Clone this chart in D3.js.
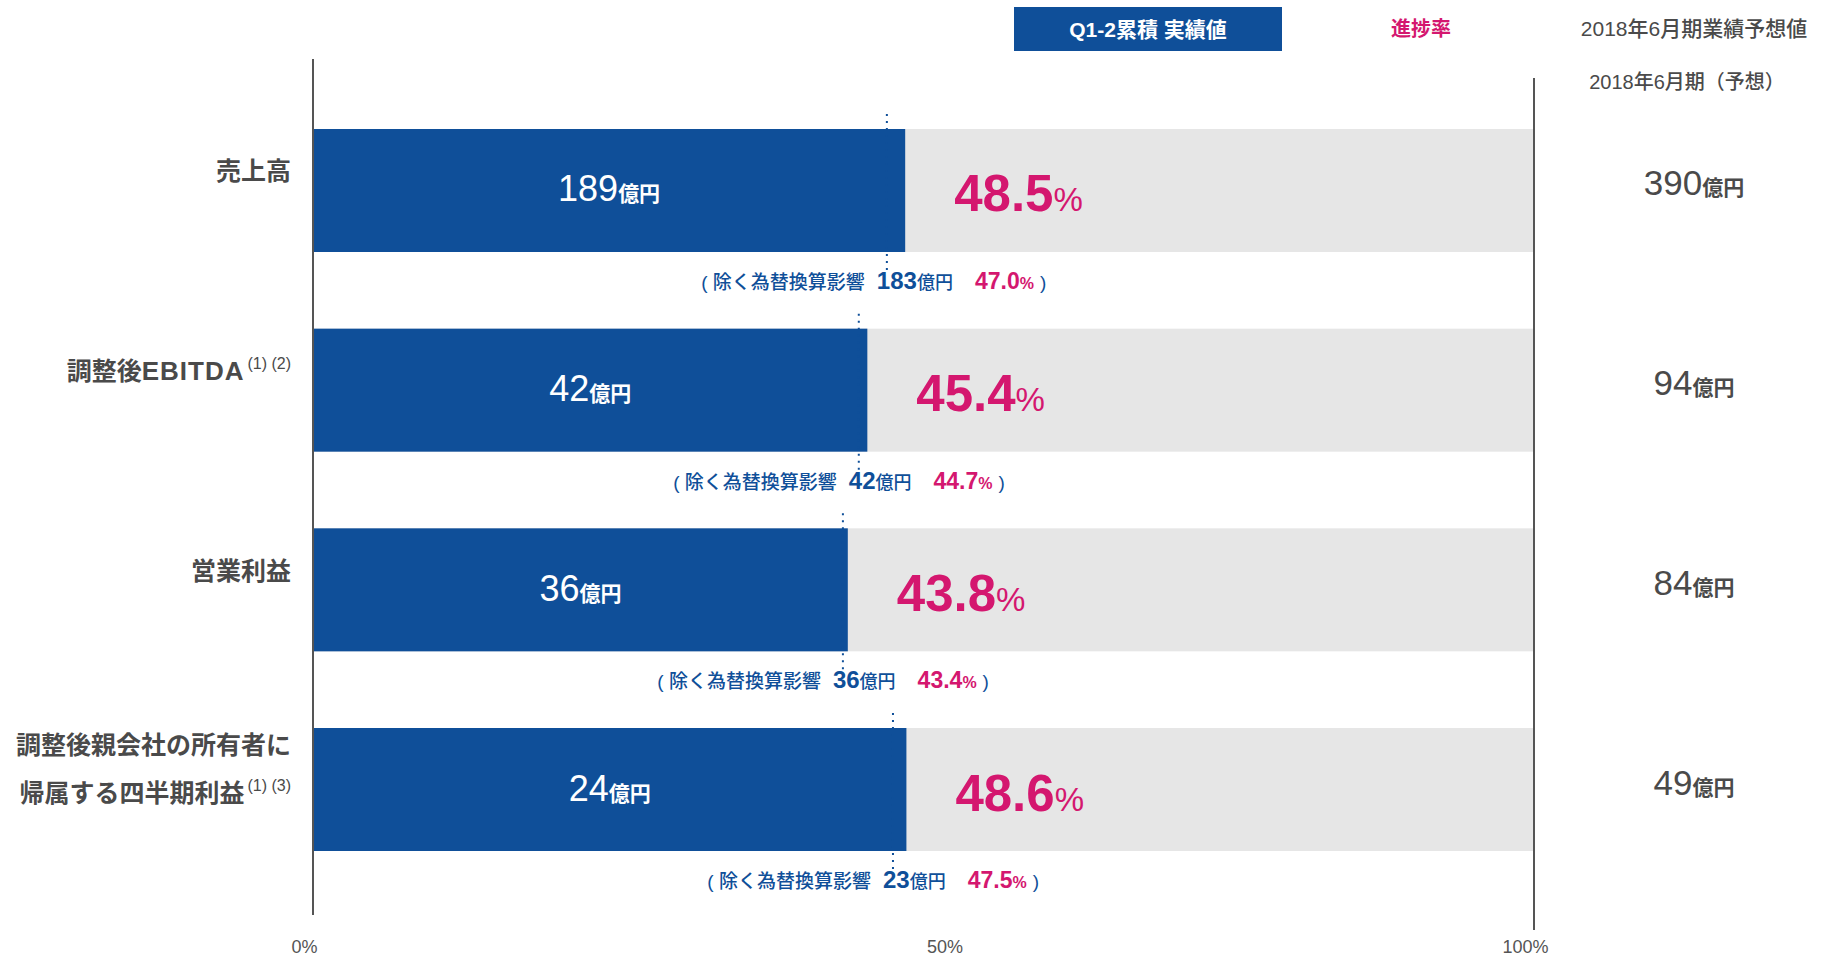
<!DOCTYPE html>
<html>
<head>
<meta charset="utf-8">
<script src="https://cdn.jsdelivr.net/npm/d3@7"></script>
<style>
  body { margin: 0; background: #fff; }
  svg { display: block; }
</style>
</head>
<body>
<div id="chart"></div>
<script>
// data
const categories = ['売上高', '調整後EBITDA', '営業利益', '調整後親会社の所有者に帰属する四半期利益'];
const labelLines = [['売上高'], ['調整後EBITDA'], ['営業利益'], ['調整後親会社の所有者に', '帰属する四半期利益']];
const footnotes = ['', '(1) (2)', '', '(1) (3)'];
const actuals = [189, 42, 36, 24];
const progress = [48.5, 45.4, 43.8, 48.6];
const actualsExFx = [183, 42, 36, 23];
const progressExFx = [47.0, 44.7, 43.4, 47.5];
const forecasts = [390, 94, 84, 49];
const tickValues = [0, 50, 100];

const W = 1823, H = 959;
const blue = '#0f4f99', pink = '#d4176f', grey = '#e6e6e6', dark = '#4a4a4a';
const jp = "'Liberation Sans', 'Noto Sans CJK JP', sans-serif";
const num = "'Liberation Sans', Arial, sans-serif";

const svg = d3.select('#chart').append('svg')
  .attr('width', W).attr('height', H)
  .attr('font-family', jp);

const x = d3.scaleLinear().domain([0, 100]).range([313, 1534]);
const y = d3.scaleBand().domain(categories).range([129, 851]).paddingInner(0.384).paddingOuter(0);

// legend / headers
svg.append('rect').attr('x', 1014).attr('y', 7).attr('width', 268).attr('height', 44).attr('fill', blue);
svg.append('text').attr('x', 1148).attr('y', 37).attr('text-anchor', 'middle')
  .attr('fill', '#fff').attr('font-weight', 700).attr('font-size', 21).text('Q1-2累積 実績値');
svg.append('text').attr('x', 1421).attr('y', 36).attr('text-anchor', 'middle')
  .attr('fill', pink).attr('font-weight', 700).attr('font-size', 20).text('進捗率');
svg.append('text').attr('x', 1694).attr('y', 36).attr('text-anchor', 'middle')
  .attr('fill', dark).attr('font-weight', 500).attr('font-size', 21).text('2018年6月期業績予想値');
svg.append('text').attr('x', 1687).attr('y', 89).attr('text-anchor', 'middle')
  .attr('fill', dark).attr('font-weight', 500).attr('font-size', 20).text('2018年6月期（予想）');

// background bars
svg.selectAll('.bg').data(categories).join('rect')
  .attr('class', 'bg')
  .attr('x', x(0)).attr('y', d => y(d))
  .attr('width', x(100) - x(0)).attr('height', y.bandwidth())
  .attr('fill', grey);

// actual bars
svg.selectAll('.bar').data(categories).join('rect')
  .attr('class', 'bar')
  .attr('x', x(0)).attr('y', d => y(d))
  .attr('width', (d, i) => x(progress[i]) - x(0)).attr('height', y.bandwidth())
  .attr('fill', blue);

// axes lines
svg.append('line').attr('x1', x(0)).attr('x2', x(0)).attr('y1', 59).attr('y2', 915)
  .attr('stroke', '#555').attr('stroke-width', 2);
svg.append('line').attr('x1', x(100)).attr('x2', x(100)).attr('y1', 78).attr('y2', 930)
  .attr('stroke', '#555').attr('stroke-width', 2);

// tick labels
const axis = d3.axisBottom(x).tickValues(tickValues).tickFormat(d => d + '%').tickSize(0);
const ax = svg.append('g').attr('transform', 'translate(-9,937)').call(axis);
ax.select('.domain').remove();
ax.selectAll('text').attr('font-family', num).attr('font-size', 18).attr('fill', '#555')
  .attr('dx', d => d === 50 ? 30 : 0);

// dotted ex-FX markers
svg.selectAll('.dot').data(categories).join('line')
  .attr('class', 'dot')
  .attr('x1', (d, i) => x(progressExFx[i])).attr('x2', (d, i) => x(progressExFx[i]))
  .attr('y1', d => y(d) - 15).attr('y2', d => y(d) + y.bandwidth() + 19)
  .attr('stroke', blue).attr('stroke-width', 2).attr('stroke-dasharray', '2,5');

// category labels (latin runs a bit wider, like the original)
categories.forEach((c, i) => {
  const lines = labelLines[i];
  const cy = y(c) + y.bandwidth() / 2;
  const first = lines.length === 1 ? cy - 18 : cy - 44;
  lines.forEach((ln, k) => {
    const t = svg.append('text').attr('x', 291).attr('y', first + k * 48 + 8)
      .attr('text-anchor', 'end').attr('fill', dark).attr('font-weight', 700).attr('font-size', 25);
    ln.split(/([A-Za-z]+)/).filter(s => s).forEach(part => {
      const sp = t.append('tspan').text(part);
      if (/[A-Za-z]/.test(part)) sp.attr('letter-spacing', 1).attr('font-size', 26);
    });
    if (k === lines.length - 1 && footnotes[i]) {
      t.append('tspan').attr('font-size', 16).attr('font-weight', 400).attr('dy', -11).attr('dx', 3).text(footnotes[i]);
    }
  });
});

// values in bars
svg.selectAll('.val').data(categories).join('text')
  .attr('class', 'val')
  .attr('x', (d, i) => (x(0) + x(progress[i])) / 2)
  .attr('y', d => y(d) + y.bandwidth() / 2 + 11)
  .attr('text-anchor', 'middle').attr('fill', '#fff')
  .each(function (d, i) {
    const t = d3.select(this);
    t.append('tspan').attr('font-family', num).attr('font-size', 36).text(actuals[i]);
    t.append('tspan').attr('font-size', 21).attr('font-weight', 700).text('億円');
  });

// progress %
svg.selectAll('.pct').data(categories).join('text')
  .attr('class', 'pct')
  .attr('x', (d, i) => x(progress[i]) + 49)
  .attr('y', d => y(d) + y.bandwidth() / 2 + 21)
  .attr('fill', pink).attr('font-weight', 700)
  .each(function (d, i) {
    const t = d3.select(this);
    t.append('tspan').attr('font-family', num).attr('font-size', 51).text(progress[i].toFixed(1));
    t.append('tspan').attr('font-family', num).attr('font-size', 33).attr('font-weight', 400).text('%');
  });

// ex-FX annotation rows
categories.forEach((c, i) => {
  const base = y(c) + y.bandwidth() + 37;
  const xa = x(progressExFx[i]);
  svg.append('text').attr('x', xa - 22).attr('y', base)
    .attr('text-anchor', 'end').attr('fill', blue).attr('font-size', 19).attr('font-weight', 500)
    .text('(  除く為替換算影響');
  const t = svg.append('text').attr('x', xa - 10).attr('y', base).attr('fill', blue);
  t.append('tspan').attr('font-family', num).attr('font-size', 24).attr('font-weight', 700).text(actualsExFx[i]);
  t.append('tspan').attr('font-size', 18).attr('font-weight', 500).text('億円');
  t.append('tspan').attr('dx', 22).attr('fill', pink).attr('font-family', num).attr('font-size', 23).attr('font-weight', 700).text(progressExFx[i].toFixed(1));
  t.append('tspan').attr('fill', pink).attr('font-family', num).attr('font-size', 16).attr('font-weight', 700).text('%');
  t.append('tspan').attr('dx', 6).attr('font-size', 19).text(')');
});

// forecasts
svg.selectAll('.fc').data(categories).join('text')
  .attr('class', 'fc')
  .attr('x', 1694)
  .attr('y', d => y(d) + y.bandwidth() / 2 + 5)
  .attr('text-anchor', 'middle').attr('fill', dark)
  .each(function (d, i) {
    const t = d3.select(this);
    t.append('tspan').attr('font-family', num).attr('font-size', 35).text(forecasts[i]);
    t.append('tspan').attr('font-size', 21).attr('font-weight', 700).text('億円');
  });
</script>
</body>
</html>
